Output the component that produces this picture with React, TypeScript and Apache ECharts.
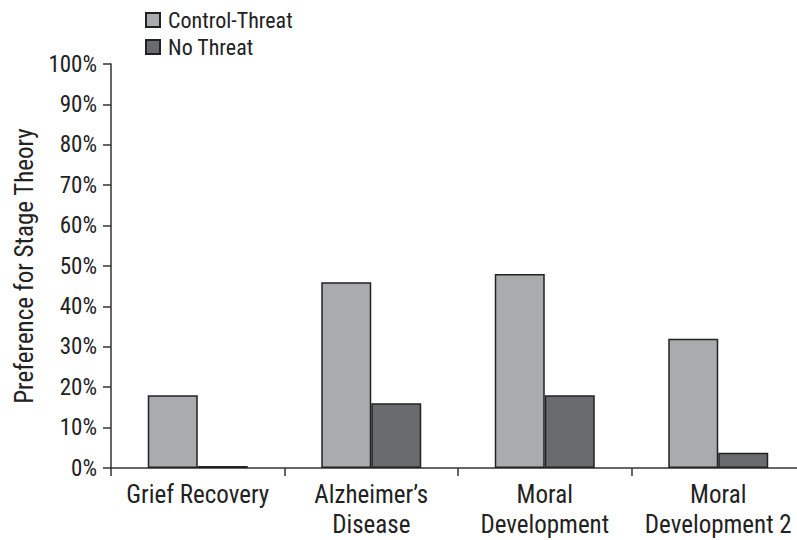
import React, { useEffect, useRef } from "react";
import * as echarts from "echarts";

const categories = ["Grief Recovery", "Alzheimer\u2019s\nDisease", "Moral\nDevelopment", "Moral\nDevelopment 2"];
const controlThreat = [18, 46, 48, 32];
const noThreat = [0.5, 16, 18, 3.8];
const seriesNames = ["Control-Threat", "No Threat"];

const FONT = '"Liberation Sans Narrow", "Roboto Condensed", "Liberation Sans", sans-serif';
const TEXT = "#222";

export default function App() {
  const ref = useRef<HTMLDivElement>(null);
  useEffect(() => {
    if (!ref.current) return;
    const chart = echarts.init(ref.current, undefined, { renderer: "svg" });
    chart.setOption({
      animation: false,
      backgroundColor: "#fff",
      textStyle: { fontFamily: FONT, color: TEXT },
      legend: {
        orient: "vertical",
        left: 145,
        top: 9,
        padding: 0,
        itemWidth: 14,
        itemHeight: 14,
        itemGap: 5,
        icon: "rect",
        textStyle: { fontFamily: FONT, fontSize: 22, color: TEXT, padding: [0, 0, 0, 3] },
        data: seriesNames,
      },
      grid: { left: 111, width: 694, top: 64, bottom: 72, containLabel: false, outerBoundsMode: "none" },
      xAxis: {
        type: "category",
        data: categories,
        axisLine: { lineStyle: { color: "#333", width: 1.5 } },
        axisTick: { show: true, length: 8, lineStyle: { color: "#333", width: 1.5 } },
        axisLabel: { fontFamily: FONT, fontSize: 25, color: TEXT, margin: 11, lineHeight: 30, interval: 0 },
      },
      yAxis: {
        type: "value",
        min: 0,
        max: 100,
        interval: 10,
        name: "Preference for Stage Theory",
        nameLocation: "middle",
        nameGap: 73,
        nameTextStyle: { fontFamily: FONT, fontSize: 25, color: TEXT },
        splitLine: { show: false },
        axisLine: { show: true, lineStyle: { color: "#333", width: 1.5 } },
        axisTick: { show: true, length: 8, lineStyle: { color: "#333", width: 1.5 } },
        axisLabel: { fontFamily: FONT, fontSize: 23, color: TEXT, margin: 14, formatter: "{value}%" },
      },
      series: [
        {
          name: seriesNames[0],
          type: "bar",
          data: controlThreat,
          barWidth: 50,
          barGap: "0%",
          itemStyle: { color: "#aaabaf", borderColor: "#222", borderWidth: 1.5 },
        },
        {
          name: seriesNames[1],
          type: "bar",
          data: noThreat,
          barWidth: 50,
          barGap: "0%",
          itemStyle: { color: "#6a6b6f", borderColor: "#222", borderWidth: 1.5 },
        },
      ],
    });
    return () => chart.dispose();
  }, []);
  return <div ref={ref} style={{ width: 797, height: 540, position: "absolute", left: 0, top: 0 }} />;
}
